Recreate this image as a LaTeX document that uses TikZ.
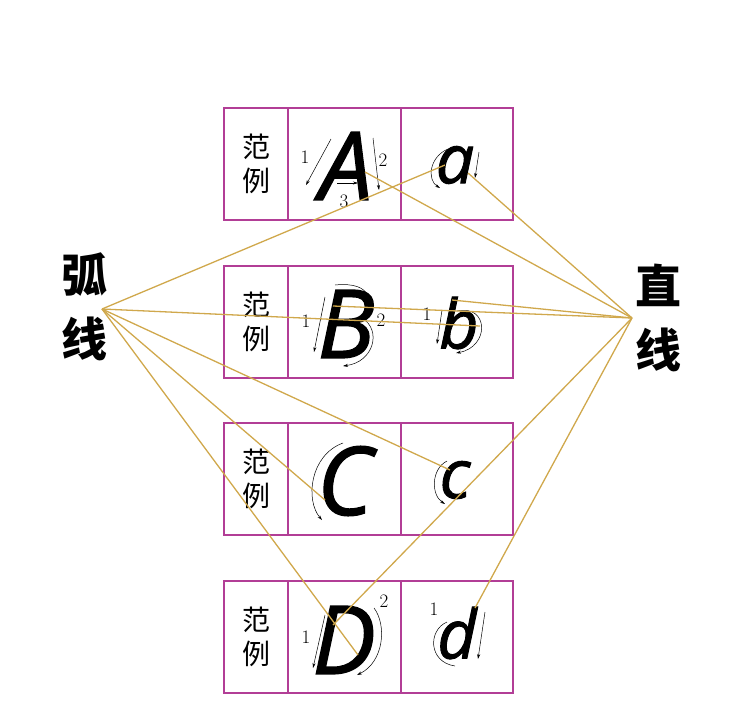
\documentclass[tikz,border=0pt]{standalone}
\usepackage{fontspec}
\newfontfamily\cjk{Noto Sans CJK SC}
\newfontfamily\letterfont{Open Sans}[FakeBold=1.4]
\usetikzlibrary{arrows.meta}
\definecolor{boxpink}{RGB}{178,62,150}
\definecolor{gold}{RGB}{208,168,76}

\tikzset{
  cell/.style={draw=boxpink,line width=1.3pt},
  link/.style={draw=gold,line width=1.3pt},
  stroke/.style={line width=0.5pt,-{Stealth[length=5pt,width=3pt]}},
  bigletter/.style={font=\letterfont\itshape\fontsize{95}{95}\selectfont,inner sep=0pt},
  smallletter/.style={font=\letterfont\itshape\fontsize{68}{68}\selectfont,inner sep=0pt},
  num/.style={font=\fontsize{19}{19}\selectfont,inner sep=0pt},
  hanzi/.style={font=\cjk\fontsize{28}{34}\selectfont,align=center,inner sep=0pt},
  title/.style={font=\cjk\bfseries\fontsize{46}{64}\selectfont,align=center,inner sep=0pt}
}

\begin{document}
\begin{tikzpicture}[x=1pt,y=-1pt]
\useasboundingbox (0,0) rectangle (750,721);
% grid of boxes
\foreach \t [count=\i] in {108,266,423,581} {
  \draw[cell] (224,\t) rectangle (513,\t+112);
  \draw[cell] (288,\t) -- (288,\t+112);
  \draw[cell] (401,\t) -- (401,\t+112);
  \node[hanzi] (fan\i) at (256,\t+56) {范\\例};
}
% side titles
\node[title] (hu) at (84,307) {弧\\线};
\node[title] (zhi) at (658,318) {直\\线};
% letters
\node[bigletter] (A) at (346,166) {A};
\node[bigletter] (B) at (346,324) {B};
\node[bigletter] (C) at (345,481) {C};
\node[bigletter] (D) at (344,640) {D};
\node[smallletter] (a) at (455,165) {a};
\node[smallletter] (b) at (459,323) {b};
\node[smallletter] (c) at (455,480) {c};
\node[smallletter] (d) at (457,633) {d};
% stroke order A
\draw[stroke] (331,139) -- (306,185);
\node[num] (A1) at (305,157) {1};
\draw[stroke] (373,138) -- (379,190);
\node[num] (A2) at (383,160) {2};
\draw[stroke] (337,183) -- (358,183);
\node[num] (A3) at (344,201) {3};
% stroke order B
\draw[stroke] (325,297) -- (314,352);
\node[num] (B1) at (306,321) {1};
\draw[stroke] (335,285) .. controls (374,281) and (374,305) .. (362,318) .. controls (382,330) and (374,362) .. (343,366);
\node[num] (B2) at (381,320) {2};
% stroke order C
\draw[stroke] (343,443) .. controls (310,455) and (305,500) .. (322,520);
% stroke order D
\draw[stroke] (325,615) -- (313,668);
\node[num] (D1) at (306,637) {1};
\draw[stroke] (374,608) .. controls (387,625) and (384,662) .. (357,675);
\node[num] (D2) at (384,601) {2};
% stroke order a
\draw[stroke] (448,149) .. controls (429,157) and (427,180) .. (440,188);
\draw[stroke] (479,152) -- (475,178);
% stroke order b
\draw[stroke] (442,310) -- (437,344);
\node[num] (b1) at (427,314) {1};
\draw[stroke] (457,311) .. controls (489,304) and (490,347) .. (456,353);
% stroke order c
\draw[stroke] (447,461) .. controls (431,469) and (431,495) .. (445,504);
% stroke order d
\node[num] (d1) at (434,609) {1};
\draw[line width=0.5pt] (447,622) .. controls (428,630) and (428,662) .. (455,666);
\draw[stroke] (485,612) -- (478,659);
% link points
\coordinate (arcL) at (102,309);
\coordinate (lineR) at (632,318);
\coordinate (a-arc) at (445,165);
\coordinate (b-arc) at (480,326);
\coordinate (C-arc) at (325,500);
\coordinate (c-arc) at (450,470);
\coordinate (D-arc) at (358,655);
\coordinate (A-line) at (365,172);
\coordinate (a-line) at (468,173);
\coordinate (B-line) at (333,306);
\coordinate (b-line) at (452,300);
\coordinate (D-line) at (333,625);
\coordinate (d-line) at (475,608);
% links
\foreach \p in {a-arc,b-arc,C-arc,c-arc,D-arc}
  \draw[link] (arcL) -- (\p);
\foreach \p in {A-line,a-line,B-line,b-line,D-line,d-line}
  \draw[link] (lineR) -- (\p);
\end{tikzpicture}
\end{document}
